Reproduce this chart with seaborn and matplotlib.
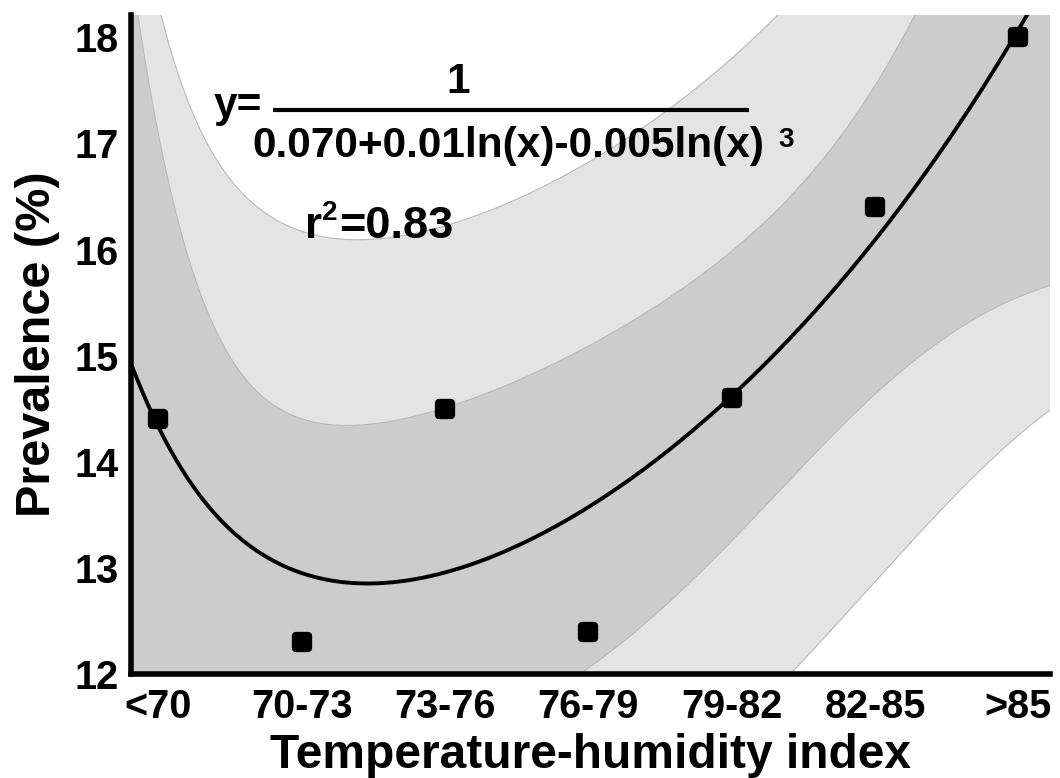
import numpy as np
import matplotlib
matplotlib.use("Agg")
import matplotlib.pyplot as plt
from matplotlib.lines import Line2D
from matplotlib.ticker import FixedLocator
import seaborn as sns

# Prevalence by temperature-humidity index class
categories = ["<70", "70-73", "73-76", "76-79", "79-82", "82-85", ">85"]
prevalence = [14.4, 12.3, 14.5, 12.4, 14.6, 16.4, 18.0]
y_ticks = [12, 13, 14, 15, 16, 17, 18]

sns.set_style("white")
plt.rcParams["font.family"] = ["Liberation Sans", "DejaVu Sans"]
plt.rcParams["font.weight"] = "bold"
plt.rcParams["axes.labelweight"] = "bold"
for key in ("text.color", "axes.labelcolor", "xtick.color", "ytick.color"):
    plt.rcParams[key] = "black"

# Nonlinear fit  y = 1 / (a + b ln(x) + c ln(x)^3),  x = class number 1..7
x_idx = np.arange(1, len(categories) + 1, dtype=float)
y_obs = np.asarray(prevalence, dtype=float)


def basis(x):
    L = np.log(x)
    return np.column_stack([np.ones_like(L), L, L ** 3])


X = basis(x_idx)
beta = np.linalg.lstsq(X, 1.0 / y_obs, rcond=None)[0]
for _ in range(100):
    D = X @ beta
    J = -X / D[:, None] ** 2
    step = np.linalg.lstsq(J, y_obs - 1.0 / D, rcond=None)[0]
    beta = beta + step
    if np.max(np.abs(step)) < 1e-14:
        break

D = X @ beta
resid = y_obs - 1.0 / D
dof = len(y_obs) - X.shape[1]
s2 = resid @ resid / dof
J = -X / D[:, None] ** 2
cov = s2 * np.linalg.inv(J.T @ J)
t975 = 2.7764451051977987  # Student t quantile, 4 degrees of freedom

xlim = (-0.19, 6.22)
ylim = (12.0, 18.21)
xs = np.linspace(xlim[0], xlim[1], 600)
Xg = basis(xs + 1.0)
Dg = Xg @ beta
fit = 1.0 / Dg
Jg = -Xg / Dg[:, None] ** 2
se = np.sqrt(np.einsum("ij,jk,ik->i", Jg, cov, Jg))
conf = t975 * se
pred = t975 * np.sqrt(s2 + se ** 2)

W, H = 1060, 778
fig = plt.figure(figsize=(W / 100, H / 100), dpi=100)
ax = fig.add_axes([131 / W, 104 / H, 919 / W, 659 / H])

# 95% prediction band and 95% confidence band
ax.fill_between(xs, fit - pred, fit + pred, color="#e4e4e4", lw=0, zorder=1)
ax.fill_between(xs, fit - conf, fit + conf, color="#cccccc", lw=0, zorder=1.1)
for edge in (fit - pred, fit + pred, fit - conf, fit + conf):
    ax.plot(xs, edge, color="#bababa", lw=0.8, zorder=1.2)

sns.lineplot(x=xs, y=fit, color="black", linewidth=2.8, ax=ax,
             estimator=None, sort=False, zorder=2)
sns.scatterplot(x=x_idx - 1, y=prevalence, marker="s", s=72, color="black",
                edgecolor="black", linewidth=6, joinstyle="round", ax=ax,
                zorder=3, clip_on=False)

ax.set_xlim(*xlim)
ax.set_ylim(*ylim)

for side in ("top", "right"):
    ax.spines[side].set_visible(False)
for side in ("left", "bottom"):
    ax.spines[side].set_linewidth(4)
    ax.spines[side].set_color("black")

ax.set_xticks(range(len(categories)))
ax.set_xticklabels(categories)
ax.set_yticks(y_ticks)
ax.set_yticklabels([str(v) for v in y_ticks])
ax.xaxis.set_minor_locator(FixedLocator(
    [v for v in np.arange(0, len(categories) - 1 + 0.01, 0.25) if v % 1]))
ax.yaxis.set_minor_locator(FixedLocator(
    [v for v in np.arange(y_ticks[0], y_ticks[-1] + 0.01, 0.25) if v % 1]))
ax.tick_params(which="major", direction="in", length=18, width=1.1,
               color="black", labelsize=28.5, labelcolor="black")
ax.tick_params(which="minor", direction="in", length=8.6, width=1.1,
               color="black")
ax.tick_params(axis="y", which="major", pad=9)
ax.tick_params(axis="x", which="major", pad=10)
ax.tick_params(top=False, right=False, which="both")

ax.set_xlabel("Temperature-humidity index", fontsize=34.5,
              fontweight="bold", va="baseline")
ax.set_ylabel("Prevalence (%)", fontsize=35, fontweight="bold")
ax.xaxis.set_label_coords(0.5, -0.143)
ax.yaxis.set_label_coords(-0.0773, 0.5)


def fx(px):
    return px / W


def fy(py):
    return 1 - py / H


eq = dict(fontsize=30.5, fontweight="bold", va="baseline", color="black")
sup = dict(fontsize=20, fontweight="bold", va="baseline", color="black")
fig.text(fx(214), fy(117), "y=", ha="left", **eq)
fig.text(fx(458), fy(93), "1", ha="center", **eq)
fig.add_artist(Line2D([fx(273), fx(749)], [fy(110), fy(110)],
                      color="black", lw=3, solid_capstyle="butt"))
fig.text(fx(252), fy(157), "0.070+0.01ln(x)-0.005ln(x)", ha="left", **eq)
fig.text(fx(778), fy(147), "3", ha="left", **sup)
fig.text(fx(305), fy(238), "r", ha="left", **dict(eq, fontsize=31.5))
fig.text(fx(322), fy(220), "2", ha="left", **sup)
fig.text(fx(339), fy(238), "=0.83", ha="left", **dict(eq, fontsize=32.5))

fig.savefig("out.png", dpi=100)
